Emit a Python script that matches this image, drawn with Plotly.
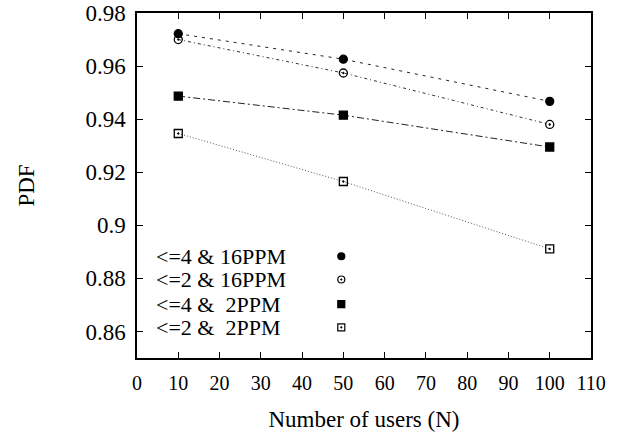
import plotly.graph_objects as go

# ---- data ----
users = [10, 50, 100]
s_le4_16ppm = [0.9722, 0.9626, 0.9467]
s_le2_16ppm = [0.9700, 0.9574, 0.9380]
s_le4_2ppm = [0.9487, 0.9415, 0.9295]
s_le2_2ppm = [0.9346, 0.9165, 0.8911]
series_names = ["<=4 & 16PPM", "<=2 & 16PPM", "<=4 &  2PPM", "<=2 &  2PPM"]
x_ticks = [0, 10, 20, 30, 40, 50, 60, 70, 80, 90, 100, 110]
y_ticks = [0.86, 0.88, 0.90, 0.92, 0.94, 0.96, 0.98]
y_tick_labels = ["0.86", "0.88", "0.9", "0.92", "0.94", "0.96", "0.98"]

series_values = [s_le4_16ppm, s_le2_16ppm, s_le4_2ppm, s_le2_2ppm]
symbols = ["circle", "circle-open-dot", "square", "square-open-dot"]
dashes = ["3px,5px", "3px,3px,1px,3px", "7px,3px,2px,3px", "1px,2px"]
line_colors = ["#222", "#333", "#222", "#555"]
msizes = [8, 8, 8, 8]

FONT = '"Liberation Serif", "Times New Roman", serif'

fig = go.Figure()
for name, vals, sym, dash, lc, ms in zip(series_names, series_values, symbols, dashes, line_colors, msizes):
    fig.add_trace(go.Scatter(
        x=users, y=vals, mode="lines+markers", name=name, showlegend=False,
        line=dict(color=lc, width=1, dash=dash),
        marker=dict(symbol=sym, size=ms, color="black",
                    line=dict(color="black", width=1.3)),
    ))

# custom gnuplot-style key (text left, symbol right)
key_rows = [0.295, 0.2275, 0.156, 0.0887]
for name, sym, ry in zip(series_names, symbols, key_rows):
    fig.add_annotation(x=0.0375, y=ry, xref="paper", yref="paper", text=name,
                       showarrow=False, xanchor="left", yanchor="middle",
                       font=dict(family=FONT, size=22, color="black"))
    fig.add_trace(go.Scatter(
        x=[0.450], y=[ry], xaxis="x2", yaxis="y2", mode="markers", showlegend=False,
        hoverinfo="skip",
        marker=dict(symbol=sym, size=7, color="black", line=dict(color="black", width=1.2)),
    ))

axis_common = dict(showline=True, linecolor="black", linewidth=1.5, mirror="ticks",
                   ticks="inside", ticklen=6, tickcolor="black", tickwidth=1,
                   showgrid=False, zeroline=False, automargin=False,
                   ticklabeloverflow="allow")

fig.update_layout(
    width=638, height=435,
    margin=dict(l=137, r=47, t=13, b=77),
    paper_bgcolor="white", plot_bgcolor="white",
    font=dict(family=FONT, color="black"),
    xaxis=dict(range=[0, 110], tickvals=x_ticks,
               tickfont=dict(family=FONT, size=20), ticklabelstandoff=6,
               title=dict(text="Number of users (N)", font=dict(family=FONT, size=23), standoff=18),
               **axis_common),
    yaxis=dict(range=[0.85, 0.98], tickvals=y_ticks, ticktext=y_tick_labels,
               tickfont=dict(family=FONT, size=23), ticklabelstandoff=5,
               title=dict(text="PDF", font=dict(family=FONT, size=23), standoff=44),
               **axis_common),
    xaxis2=dict(overlaying="x", range=[0, 1], visible=False),
    yaxis2=dict(overlaying="y", range=[0, 1], visible=False),
)

fig.write_html("out.html", config={"displayModeBar": False},
               post_script="document.body.style.margin='0';document.body.style.overflow='hidden';")
